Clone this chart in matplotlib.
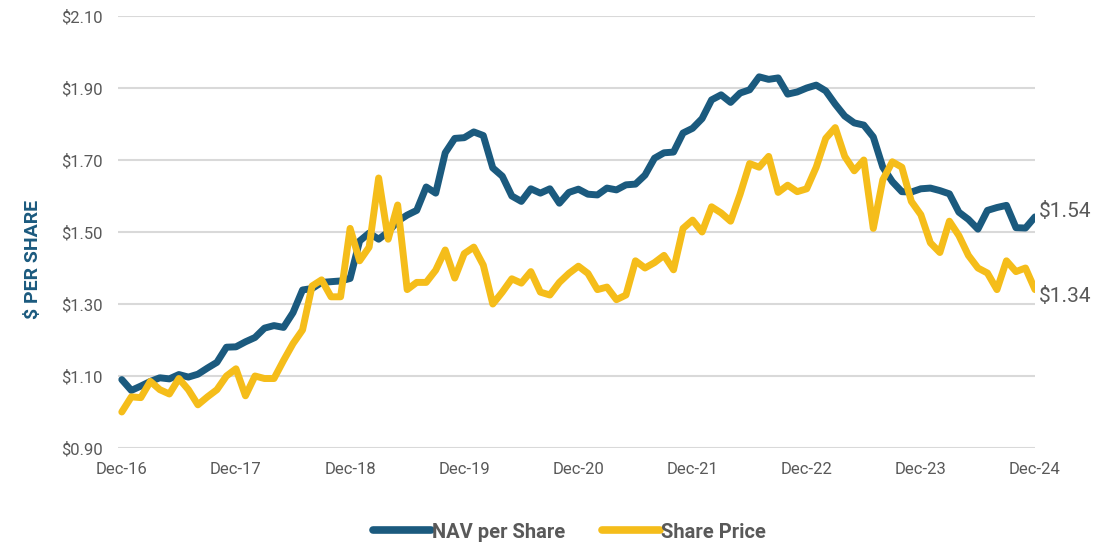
import matplotlib.pyplot as plt
import numpy as np

# ---- DATA (monthly, Dec-16 .. Dec-24) ----
tick_labels = ["Dec-16", "Dec-17", "Dec-18", "Dec-19", "Dec-20",
               "Dec-21", "Dec-22", "Dec-23", "Dec-24"]

nav = [
    1.09, 1.06, 1.072, 1.085, 1.095, 1.092, 1.104, 1.097, 1.105, 1.122, 1.138, 1.18,
    1.181, 1.195, 1.207, 1.233, 1.24, 1.235, 1.276, 1.339, 1.343, 1.36, 1.362, 1.364,
    1.371, 1.475, 1.497, 1.48, 1.50, 1.53, 1.547, 1.56, 1.625, 1.608, 1.72, 1.76,
    1.762, 1.778, 1.768, 1.678, 1.655, 1.60, 1.585, 1.62, 1.608, 1.62, 1.58, 1.61,
    1.619, 1.605, 1.603, 1.622, 1.617, 1.631, 1.633, 1.658, 1.705, 1.72, 1.722, 1.775,
    1.788, 1.815, 1.867, 1.881, 1.86, 1.886, 1.895, 1.931, 1.924, 1.928, 1.883, 1.889,
    1.90, 1.908, 1.892, 1.855, 1.822, 1.803, 1.797, 1.764, 1.68, 1.64, 1.612, 1.611,
    1.62, 1.622, 1.615, 1.606, 1.555, 1.535, 1.508, 1.56, 1.568, 1.574, 1.512, 1.511,
    1.542,
]

price = [
    1.00, 1.042, 1.04, 1.085, 1.062, 1.05, 1.093, 1.062, 1.02, 1.042, 1.062, 1.10,
    1.12, 1.045, 1.10, 1.093, 1.093, 1.143, 1.19, 1.228, 1.35, 1.367, 1.32, 1.32,
    1.51, 1.42, 1.458, 1.65, 1.48, 1.575, 1.34, 1.36, 1.36, 1.394, 1.45, 1.372,
    1.44, 1.458, 1.408, 1.30, 1.333, 1.37, 1.358, 1.39, 1.333, 1.325, 1.36, 1.385,
    1.405, 1.385, 1.34, 1.347, 1.312, 1.325, 1.42, 1.40, 1.415, 1.435, 1.395, 1.51,
    1.533, 1.50, 1.57, 1.553, 1.53, 1.605, 1.69, 1.68, 1.71, 1.61, 1.63, 1.612,
    1.62, 1.68, 1.76, 1.79, 1.71, 1.67, 1.70, 1.51, 1.645, 1.695, 1.68, 1.585,
    1.548, 1.47, 1.443, 1.53, 1.49, 1.435, 1.40, 1.386, 1.34, 1.42, 1.39, 1.40,
    1.34,
]

# ---- STYLE ----
nav_color = "#1b5a7e"
price_color = "#f5bd1a"
text_color = "#595959"
plt.rcParams["font.family"] = ["Roboto", "DejaVu Sans"]

x = np.arange(len(nav))

fig = plt.figure(figsize=(11.14, 5.44), dpi=100)
ax = fig.add_axes([118 / 1114, 96 / 544, 917 / 1114, 432 / 544])

ax.plot(x, nav, color=nav_color, linewidth=5, solid_capstyle="round",
        solid_joinstyle="round", label="NAV per Share", zorder=3)
ax.plot(x, price, color=price_color, linewidth=5, solid_capstyle="round",
        solid_joinstyle="round", label="Share Price", zorder=4)

ax.set_xlim(-0.4, 96.0)
ax.set_ylim(0.90, 2.10)

yticks = np.arange(0.90, 2.11, 0.20)
ax.set_yticks(yticks)
ax.set_yticklabels([f"${v:.2f}" for v in yticks])
ax.set_xticks(np.arange(0, 97, 12))
ax.set_xticklabels(tick_labels)

ax.yaxis.grid(True, color="#d9d9d9", linewidth=1.5, zorder=0)
ax.set_axisbelow(True)
for s in ax.spines.values():
    s.set_visible(False)
ax.tick_params(axis="both", length=0, labelsize=12, labelcolor=text_color)
ax.tick_params(axis="y", pad=11)
ax.tick_params(axis="x", pad=10)

ax.set_ylabel("$ PER SHARE", fontsize=14, fontweight="bold", color=nav_color)
ax.yaxis.set_label_coords(-0.083, 0.4375)

# end labels
ax.annotate(f"${nav[-1]:.2f}", (x[-1], nav[-1]), xytext=(3, 4),
            textcoords="offset points", ha="left", va="center",
            fontsize=15, color=text_color, annotation_clip=False)
ax.annotate(f"${price[-1]:.2f}", (x[-1], price[-1]), xytext=(3, -5),
            textcoords="offset points", ha="left", va="center",
            fontsize=15, color=text_color, annotation_clip=False)

leg = fig.legend(loc="center", bbox_to_anchor=(0.511, 0.022), ncol=2,
                 frameon=False, handlelength=2.9, handletextpad=0.05,
                 columnspacing=1.8, prop={"size": 14.5, "weight": "bold"})
for t in leg.get_texts():
    t.set_color(text_color)
for h in leg.get_lines():
    h.set_linewidth(5.5)
    h.set_solid_capstyle("round")

fig.savefig("out.png", dpi=100)
